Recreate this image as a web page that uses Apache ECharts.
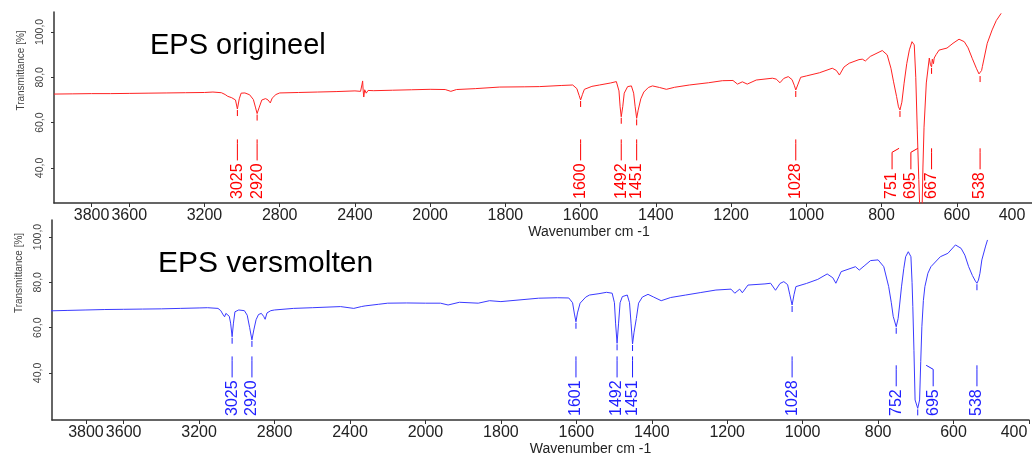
<!DOCTYPE html>
<html><head><meta charset="utf-8">
<script src="https://cdn.jsdelivr.net/npm/echarts@6/dist/echarts.min.js"></script>
<style>html,body{margin:0;padding:0;background:#fff}#c{width:1032px;height:460px}</style>
</head><body><div id="c"></div>
<script>
// ---- data ----
const xTicks = [3800,3600,3200,2800,2400,2000,1800,1600,1400,1200,1000,800,600,400];
const yTicks = [40,60,80,100];

const origWn = [4000,3900,3800,3700,3600,3500,3400,3300,3200,3155,3110,3090,3076,3068,3055,3045,3035,3025,3015,3005,2985,2960,2940,2928,2920,2910,2895,2875,2862,2850,2840,2820,2800,2700,2600,2500,2400,2370,2362,2359,2356,2353,2348,2340,2330,2300,2200,2100,2000,1960,1945,1930,1880,1815,1750,1709,1650,1621,1610,1604,1600,1595,1590,1570,1550,1520,1505,1498,1495,1492,1488,1484,1475,1465,1459,1455,1451,1447,1440,1432,1420,1409,1390,1372,1350,1311,1260,1223,1195,1183,1170,1157,1133,1090,1080,1070,1060,1048,1038,1032,1028,1022,1015,1000,965,931,920,912,900,886,860,851,843,830,798,785,775,768,760,755,751,746,740,733,726,719,713,709,705,701,697,695,693,690,687,681,673,670,667,665,662,660,655,647,626,610,594,580,570,559,548,541,538,534,532,519,506,495,482];
const origT = [72.6,72.7,72.8,72.8,72.9,73.0,73.1,73.2,73.3,73.5,73.2,72.4,71.6,72.3,71.0,71.6,70.0,66.0,70.5,73.0,73.1,72.3,70.2,66.5,64.0,66.5,70.0,70.6,70.0,68.7,70.8,72.4,73.1,73.3,73.5,73.7,74.0,73.8,77.0,78.4,74.0,71.3,74.5,73.0,74.2,74.1,74.3,74.5,74.7,74.6,73.8,74.6,75.0,75.7,75.8,75.9,76.4,76.6,75.0,72.0,70.0,72.5,74.7,76.0,76.6,77.5,78.1,74.0,67.0,62.6,67.0,73.0,75.9,76.2,73.0,67.0,61.9,65.5,70.5,73.5,75.5,76.2,75.5,74.7,75.6,76.6,77.6,78.5,78.6,77.0,78.0,77.0,78.8,79.6,79.2,77.6,79.5,80.3,79.0,76.5,74.4,77.0,80.0,80.6,82.0,84.0,83.0,81.0,84.5,86.2,87.8,88.0,87.2,89.2,91.8,89.9,84.0,78.0,71.5,67.0,65.6,69.0,77.4,86.0,92.1,95.7,94.3,80.0,56.8,35.0,15.0,10.0,15.0,40.0,58.0,77.5,88.5,85.5,84.6,88.0,86.0,88.5,90.0,92.0,92.9,95.0,96.8,95.7,93.0,88.4,84.0,81.5,81.0,83.0,84.7,95.0,100.9,105.0,108.2];

const meltWn = [4000,3900,3800,3700,3600,3500,3400,3300,3200,3155,3100,3085,3075,3065,3058,3048,3040,3033,3025,3018,3010,2990,2960,2945,2932,2920,2910,2898,2885,2870,2858,2850,2840,2820,2800,2700,2600,2450,2380,2340,2320,2250,2200,2100,2000,1960,1940,1910,1860,1830,1800,1700,1650,1620,1610,1605,1601,1597,1590,1575,1565,1540,1520,1505,1499,1496,1492,1488,1484,1478,1465,1459,1455,1451,1447,1441,1435,1425,1410,1395,1375,1350,1310,1270,1230,1190,1180,1167,1160,1145,1100,1085,1072,1060,1050,1040,1034,1028,1023,1018,990,960,935,920,912,904,898,860,850,835,820,800,785,772,765,760,752,747,743,738,732,727,720,713,710,708,705,702,695,690,687,684,680,676,668,660,635,615,595,580,570,560,550,542,538,534,530,525,515,510];
const meltT = [67.4,67.6,67.8,68.0,68.1,68.2,68.3,68.5,68.7,68.8,68.5,67.5,66.0,64.8,66.3,66.5,65.0,62.0,56.0,62.0,67.0,67.8,67.5,65.5,60.0,54.6,59.0,63.5,65.8,66.3,65.0,63.7,66.5,67.5,67.8,68.5,68.8,69.3,68.5,69.3,69.6,70.3,70.8,70.9,70.8,70.8,70.0,71.2,70.8,71.9,71.5,73.0,73.2,73.1,71.0,66.0,62.6,66.5,70.8,73.5,74.4,75.0,75.6,75.2,71.0,62.0,53.1,62.0,71.0,73.7,74.4,71.0,62.0,52.8,58.0,64.0,70.8,73.5,74.7,73.5,71.9,73.3,74.4,75.5,76.6,77.0,75.2,77.0,75.4,78.8,79.3,79.6,76.5,79.5,80.3,79.0,74.5,70.0,74.5,78.1,79.5,81.3,83.7,82.0,79.6,82.5,84.7,86.9,85.4,87.5,89.6,89.9,86.9,78.1,71.0,65.0,60.4,64.0,70.0,78.0,86.0,91.3,93.5,91.3,80.0,69.3,50.0,28.1,24.4,28.1,45.0,60.4,72.0,78.1,84.0,86.9,91.3,92.8,96.5,95.0,92.0,86.9,83.0,80.5,79.6,81.0,84.0,89.9,96.0,98.7];

const origPeaks = [3025,2920,1600,1492,1451,1028,751,695,667,538];
const origPeakLabelAt = [3025,2920,1600,1492,1451,1028,772,722,667,538];
const meltPeaks = [3025,2920,1601,1492,1451,1028,752,695,538];
const meltPeakLabelAt = [3025,2920,1601,1492,1451,1028,752,654,538];

// ---- split wavenumber scale: 4000-2000 at half the scale of 2000-400 ----
function u(w){ return w >= 2000 ? (4000 - w) * 0.5 : 1000 + (2000 - w); }
const tickU = xTicks.map(u);
function interp(wn, t, w){
  for (let i = 0; i < wn.length - 1; i++){
    if ((wn[i] - w) * (wn[i+1] - w) <= 0){
      const f = (w - wn[i]) / (wn[i+1] - wn[i]);
      return t[i] + f * (t[i+1] - t[i]);
    }
  }
  return t[t.length-1];
}

const FONT = 'Liberation Sans';
const RED = '#ff2222', RED_L = '#ff0000';
const BLUE = '#3a3aff', BLUE_L = '#2020ff';

function peakRenderer(color){
  return function(params, api){
    const cs = params.coordSys;
    const base = cs.y + cs.height;
    const p = api.coord([api.value(0), api.value(1)]);
    const lx = api.coord([api.value(2), api.value(1)])[0];
    const txt = String(api.value(3));
    const fs = 16;
    const tlen = txt.length * 0.556 * fs;
    const textBottom = base - 4;
    const textTop = textBottom - tlen;
    const lb = textTop - 3, lt = lb - 21;
    const dx = Math.max(-7, Math.min(7, p[0] - lx));
    const children = [
      { type:'text', x: lx, y: textBottom, rotation: Math.PI/2,
        style:{ text: txt, x:0, y:0, align:'left', verticalAlign:'middle', fill: color, fontSize: fs, fontFamily: FONT } },
      { type:'polyline', shape:{ points: [[lx, lb], [lx, lt + 4], [lx + dx, lt]] },
        style:{ stroke: color, lineWidth: 1, fill: null } }
    ];
    if (p[1] < base - 8 && p[1] > cs.y){
      children.push({ type:'line', shape:{ x1:p[0], y1:p[1]+1, x2:p[0], y2:p[1]+7 }, style:{ stroke: color, lineWidth:1 } });
    }
    return { type:'group', children };
  };
}

function xAxisCfg(gi, min, max, nameGap, namePad, lastPad){
  return {
    type:'value', gridIndex: gi, min, max,
    name:'Wavenumber cm -1', nameLocation:'middle', nameGap,
    nameTextStyle:{ fontSize:14, color:'#222', fontFamily:FONT, padding:[0,0,0,namePad] },
    axisLine:{ show:true, onZero:false, lineStyle:{ color:'#333', width:1.5 } },
    axisTick:{ show:true, customValues: tickU, length:4, lineStyle:{ color:'#333' } },
    axisLabel:{ show:true, customValues: tickU, margin:5, color:'#222', fontSize:16, fontFamily:FONT,
      formatter: v => { const i = tickU.indexOf(v); const s = i >= 0 ? String(xTicks[i]) : ''; return s === '400' ? '{r|400}' : s; },
      rich:{ r:{ fontSize:16, fontFamily:FONT, color:'#222', padding:[0,lastPad,0,0] } } },
    splitLine:{ show:false }
  };
}
function yAxisCfg(gi, min, max, namePad){
  return {
    type:'value', gridIndex: gi, min, max,
    name:'Transmittance [%]', nameLocation:'middle', nameGap:28,
    nameTextStyle:{ fontSize:10, color:'#444', fontFamily:FONT, padding:[0,0,0,namePad] },
    axisLine:{ show:true, onZero:false, lineStyle:{ color:'#333', width:1.5 } },
    axisTick:{ show:true, customValues: yTicks, length:3, lineStyle:{ color:'#333' } },
    axisLabel:{ show:true, customValues: yTicks, rotate:90, margin:8, color:'#444', fontSize:10.5, fontFamily:FONT,
      formatter: v => v.toFixed(1).replace('.', ',') },
    splitLine:{ show:false }
  };
}

const chart = echarts.init(document.getElementById('c'), null, { renderer:'canvas' });
chart.setOption({
  animation:false,
  backgroundColor:'#fff',
  title:[
    { text:'EPS origineel', left:150, top:31, padding:0, textStyle:{ fontSize:29, fontWeight:'normal', color:'#000', fontFamily:FONT } },
    { text:'EPS versmolten', left:158, top:249, padding:0, textStyle:{ fontSize:30, fontWeight:'normal', color:'#000', fontFamily:FONT } }
  ],
  grid:[
    { left:54, top:12, width:978, height:191 },
    { left:52, top:220, width:977, height:200 }
  ],
  xAxis:[ xAxisCfg(0, 0, 2600, 22, 92, 40), xAxisCfg(1, 10, 2600, 20, 100, 30) ],
  yAxis:[ yAxisCfg(0, 24.56, 108.8, 74), yAxisCfg(1, 19.26, 107.5, 94) ],
  series:[
    { type:'line', xAxisIndex:0, yAxisIndex:0, data: origWn.map((w,i)=>[u(w), origT[i]]),
      showSymbol:false, silent:true, clip:true, lineStyle:{ width:1, color:RED } },
    { type:'line', xAxisIndex:1, yAxisIndex:1, data: meltWn.map((w,i)=>[u(w), meltT[i]]),
      showSymbol:false, silent:true, clip:true, lineStyle:{ width:1, color:BLUE } },
    { type:'custom', xAxisIndex:0, yAxisIndex:0, silent:true,
      data: origPeaks.map((p,i)=>[u(p), interp(origWn, origT, p), u(origPeakLabelAt[i]), p]),
      renderItem: peakRenderer(RED_L) },
    { type:'custom', xAxisIndex:1, yAxisIndex:1, silent:true,
      data: meltPeaks.map((p,i)=>[u(p), interp(meltWn, meltT, p), u(meltPeakLabelAt[i]), p]),
      renderItem: peakRenderer(BLUE_L) }
  ]
});
</script></body></html>
